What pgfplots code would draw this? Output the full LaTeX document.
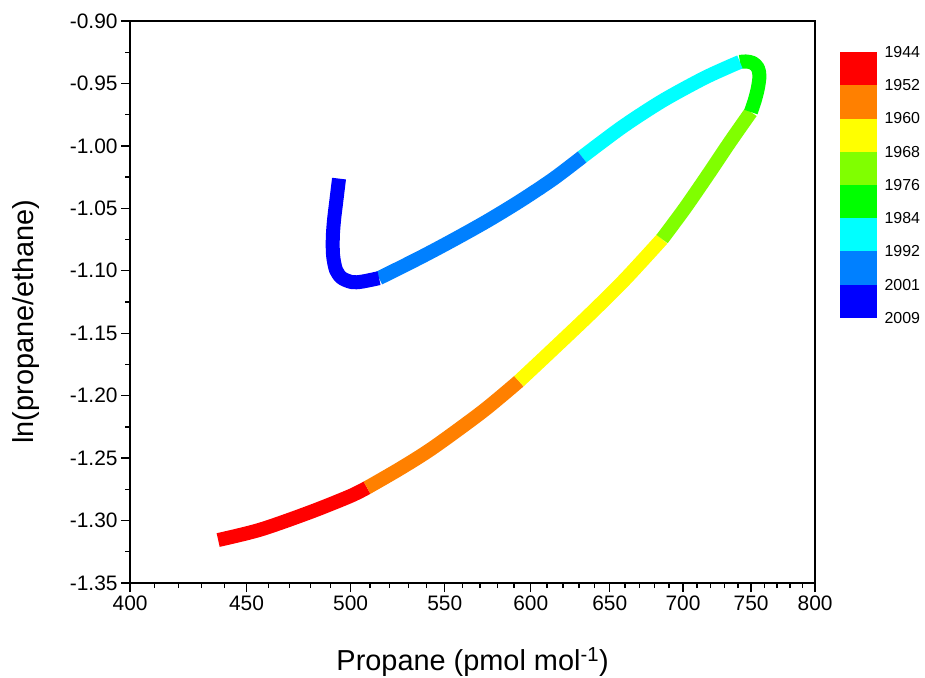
\documentclass[border=0pt]{standalone}
\usepackage{pgfplots}
\pgfplotsset{compat=1.18}
\usepackage{fontspec}
\setmainfont{Liberation Sans}
\definecolor{c1}{RGB}{255,0,0}
\definecolor{c2}{RGB}{255,128,0}
\definecolor{c3}{RGB}{255,255,0}
\definecolor{c4}{RGB}{128,255,0}
\definecolor{c5}{RGB}{0,255,0}
\definecolor{c6}{RGB}{0,255,255}
\definecolor{c7}{RGB}{0,128,255}
\definecolor{c8}{RGB}{0,0,255}
\begin{document}
\begin{tikzpicture}
\path[use as bounding box] (0,0) rectangle (925bp,678bp);
\begin{axis}[
  at={(130bp,95bp)}, anchor=south west,
  scale only axis, width=685bp, height=562bp,
  xmode=log, xmin=400, xmax=800, ymin=-1.35, ymax=-0.90,
  xtick={400,450,500,550,600,650,700,750,800},
  xticklabels={400,450,500,550,600,650,700,750,800},
  minor xtick={410,420,430,440,460,470,480,490,510,520,530,540,560,570,580,590,610,620,630,640,660,670,680,690,710,720,730,740,760,770,780,790},
  ytick={-1.35,-1.30,-1.25,-1.20,-1.15,-1.10,-1.05,-1.00,-0.95,-0.90},
  minor ytick={-1.325,-1.275,-1.225,-1.175,-1.125,-1.075,-1.025,-0.975,-0.925},
  yticklabel style={/pgf/number format/.cd, fixed, fixed zerofill, precision=2},
  /pgf/number format/assume math mode=true,
  tick align=outside, xtick pos=bottom, ytick pos=left,
  major tick length=9bp, minor tick length=5bp,
  axis line style={line width=1.6bp},
  every tick/.style={black, line width=1.3bp},
  tick label style={font=\fontsize{21}{24}\selectfont},
  xlabel={Propane (pmol mol\textsuperscript{-1})},
  ylabel={ln(propane/ethane)},
  label style={font=\fontsize{29}{33}\selectfont},
  xlabel style={at={(axis description cs:0.5,-0.1406)}, anchor=center},
  ylabel style={at={(axis description cs:-0.152,0.465)}, anchor=center},
  every axis plot/.append style={line width=14bp, line cap=butt, line join=round, no marks, smooth},
]
\addplot[c1] coordinates {(437.3,-1.3156) (456.3,-1.3073) (479.9,-1.2933) (499.7,-1.2805) (508.4,-1.2737)};
\addplot[c2] coordinates {(508.4,-1.2737) (525.7,-1.2584) (543.6,-1.2416) (571.7,-1.2124) (592.9,-1.1884)};
\addplot[c3] coordinates {(592.9,-1.1884) (611.8,-1.1651) (637.1,-1.1347) (660.2,-1.1067) (685.3,-1.0746)};
\addplot[c4] coordinates {(685.3,-1.0746) (701.4,-1.0498) (718.7,-1.0218) (734.1,-0.9969) (749.8,-0.9729)};
\addplot[c5] coordinates {(749.8,-0.9729) (752.8,-0.9633) (755.1,-0.9537) (756.3,-0.9441) (755.1,-0.9376) (751.3,-0.9336) (746.0,-0.9324) (741.5,-0.9328)};
\addplot[c6] coordinates {(741.5,-0.9328) (731.9,-0.9372) (713.6,-0.9465) (685.3,-0.9641) (658.2,-0.9849) (632.0,-1.0089)};
\addplot[c7] coordinates {(632.0,-1.0089) (613.7,-1.0266) (593.5,-1.0442) (574.1,-1.0602) (554.7,-1.0754) (536.5,-1.0894) (514.6,-1.1059)};
\addplot[c8] coordinates {(514.6,-1.1059) (505.8,-1.1087) (500.8,-1.1091) (495.7,-1.1059) (492.7,-1.0995) (491.2,-1.0874) (491.1,-1.0728) (491.7,-1.0594) (492.7,-1.0458) (494.2,-1.0262)};
\end{axis}
\begin{axis}[
  at={(840bp,360bp)}, anchor=south west,
  scale only axis, width=37bp, height=266bp,
  xmin=0, xmax=1, ymin=0, ymax=8, y dir=reverse,
  hide x axis, axis y line*=right, axis line style={draw=none},
  ytick={0,1,2,3,4,5,6,7,8},
  yticklabels={1944,1952,1960,1968,1976,1984,1992,2001,2009},
  major tick length=0pt, ytick style={draw=none},
  yticklabel style={font=\fontsize{16}{18}\selectfont, xshift=4bp},
]
\addplot[fill=c1, draw=none] coordinates {(0,0) (1,0) (1,1) (0,1)} -- cycle;
\addplot[fill=c2, draw=none] coordinates {(0,1) (1,1) (1,2) (0,2)} -- cycle;
\addplot[fill=c3, draw=none] coordinates {(0,2) (1,2) (1,3) (0,3)} -- cycle;
\addplot[fill=c4, draw=none] coordinates {(0,3) (1,3) (1,4) (0,4)} -- cycle;
\addplot[fill=c5, draw=none] coordinates {(0,4) (1,4) (1,5) (0,5)} -- cycle;
\addplot[fill=c6, draw=none] coordinates {(0,5) (1,5) (1,6) (0,6)} -- cycle;
\addplot[fill=c7, draw=none] coordinates {(0,6) (1,6) (1,7) (0,7)} -- cycle;
\addplot[fill=c8, draw=none] coordinates {(0,7) (1,7) (1,8) (0,8)} -- cycle;
\end{axis}
\end{tikzpicture}
\end{document}
